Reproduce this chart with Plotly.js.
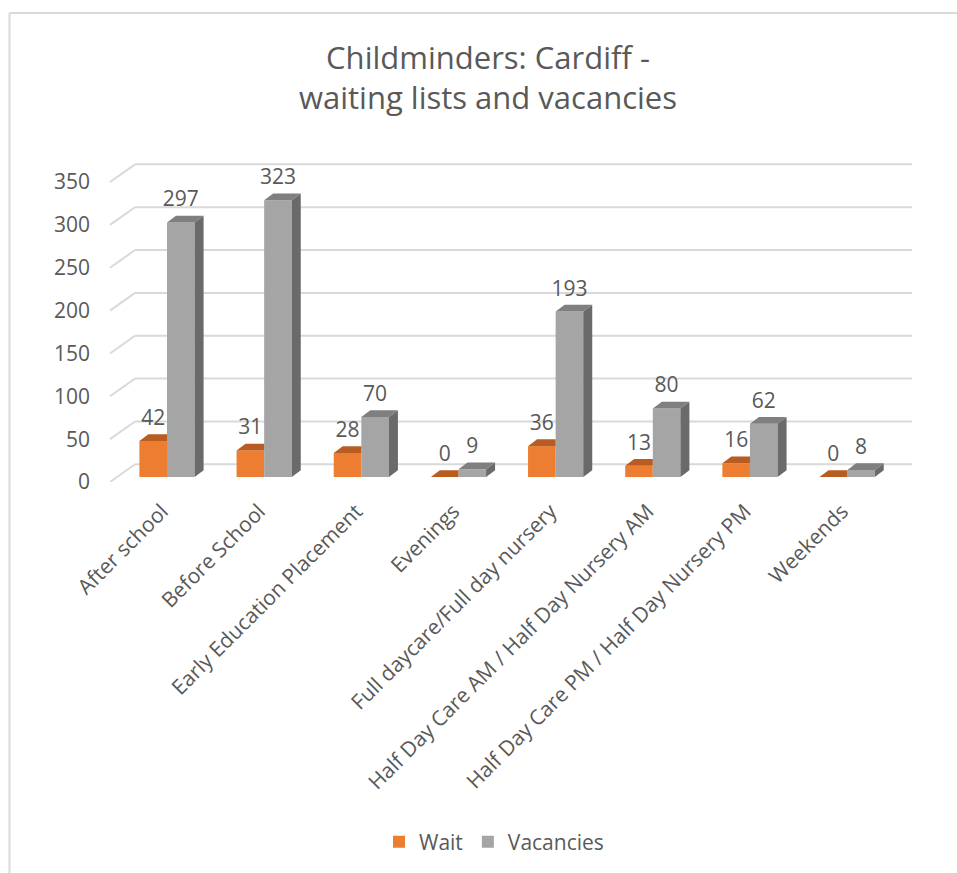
<!DOCTYPE html>
<html>
<head>
<meta charset="utf-8">
<script src="https://cdn.plot.ly/plotly-3.0.1.min.js"></script>
<style>
  html, body { margin: 0; padding: 0; background: #ffffff; }
  #chart { width: 957px; height: 873px; }
</style>
</head>
<body>
<div id="chart"></div>
<script>
// ---------------- data ----------------
const categories = [
  "After school",
  "Before School",
  "Early Education Placement",
  "Evenings",
  "Full daycare/Full day nursery",
  "Half Day Care AM / Half Day Nursery AM",
  "Half Day Care PM / Half Day Nursery PM",
  "Weekends"
];
const waitValues = [42, 31, 28, 0, 36, 13, 16, 0];
const vacancyValues = [297, 323, 70, 9, 193, 80, 62, 8];
const seriesNames = ["Wait", "Vacancies"];
const yTickValues = [0, 50, 100, 150, 200, 250, 300, 350];

// ---------------- styles / geometry ----------------
const FONT = "Open Sans, Noto Sans, sans-serif";
const TEXT_COLOR = "#595959";
const WAIT_FRONT = "#ed7d31", WAIT_TOP = "#b85c22";
const VAC_FRONT = "#a5a5a5", VAC_TOP = "#7f7f7f", VAC_SIDE = "#6a6a6a";
const GRID_COLOR = "#d9d9d9";
const LABEL_SIZE = 21;

const W = 957, H = 873;
const M = { l: 110, r: 45, t: 160, b: 391 };
const plotW = W - M.l - M.r, plotH = H - M.t - M.b;
const catPx = 97.16;          // pixels per category
const yPx = 0.857;            // pixels per value unit
const xMin = -57 / catPx;
const xRange = [xMin, xMin + plotW / catPx];
const yMin = -5 / yPx;
const yRange = [yMin, yMin + plotH / yPx];

const barW = 27.6 / catPx;    // width of one bar front face
const depthX = 9 / catPx;     // 3D depth (x)
const depthY = 6.8 / yPx;     // 3D depth (y)
const labelLift = 4 / yPx;    // extra gap above bars for data labels
const floorFront = -5 / yPx;  // grid front edge offset
const wallBack = 12.7 / yPx;  // back wall offset
const wallX = 135, gridRight = 912;

const paperX = p => (p - M.l) / plotW;
const paperY = p => (H - M.b - p) / plotH;

const xIdx = categories.map((_, i) => i);

// ---------------- 3D faces built from the data ----------------
function polys(builder) {
  const xs = [], ys = [];
  xIdx.forEach(i => {
    const pts = builder(i);
    pts.forEach(p => { xs.push(p[0]); ys.push(p[1]); });
    xs.push(pts[0][0]); ys.push(pts[0][1]);
    xs.push(null); ys.push(null);
  });
  return { xs, ys };
}
const waitTop = polys(i => {
  const xl = i - barW, xr = i, v = waitValues[i];
  return [[xl, v], [xr, v], [xr, v + depthY], [xl + depthX, v + depthY]];
});
const vacTop = polys(i => {
  const xl = i, xr = i + barW, v = vacancyValues[i];
  return [[xl, v], [xr, v], [xr + depthX, v + depthY], [xl + depthX, v + depthY]];
});
const vacSide = polys(i => {
  const xr = i + barW, v = vacancyValues[i];
  return [[xr, 0], [xr + depthX, depthY], [xr + depthX, v + depthY], [xr, v]];
});

function faceTrace(p, color) {
  return {
    type: "scatter", mode: "none", x: p.xs, y: p.ys, fill: "toself",
    fillcolor: color, showlegend: false, hoverinfo: "skip"
  };
}

const traces = [
  {
    type: "bar", name: seriesNames[0], x: xIdx, y: waitValues,
    width: barW, offset: -barW, marker: { color: WAIT_FRONT }, hoverinfo: "skip"
  },
  {
    type: "bar", name: seriesNames[1], x: xIdx, y: vacancyValues,
    width: barW, offset: 0, marker: { color: VAC_FRONT }, hoverinfo: "skip"
  },
  faceTrace(waitTop, WAIT_TOP),
  faceTrace(vacSide, VAC_SIDE),
  faceTrace(vacTop, VAC_TOP),
  {
    type: "scatter", mode: "text", x: xIdx.map(i => i - barW / 2),
    y: waitValues.map(v => v + depthY + labelLift), text: waitValues.map(String),
    textposition: "top center", showlegend: false, hoverinfo: "skip",
    textfont: { family: FONT, size: LABEL_SIZE, color: TEXT_COLOR }
  },
  {
    type: "scatter", mode: "text", x: xIdx.map(i => i + barW / 2),
    y: vacancyValues.map(v => v + depthY + labelLift), text: vacancyValues.map(String),
    textposition: "top center", showlegend: false, hoverinfo: "skip",
    textfont: { family: FONT, size: LABEL_SIZE, color: TEXT_COLOR }
  }
];

// ---------------- grid (3D wall) & border ----------------
const shapes = [];
yTickValues.forEach(v => {
  shapes.push({
    type: "line", layer: "below", xref: "paper", yref: "y",
    x0: 0, y0: v + floorFront, x1: paperX(wallX), y1: v + wallBack,
    line: { color: GRID_COLOR, width: 2 }
  });
  shapes.push({
    type: "line", layer: "below", xref: "paper", yref: "y",
    x0: paperX(wallX), y0: v + wallBack, x1: paperX(gridRight), y1: v + wallBack,
    line: { color: GRID_COLOR, width: 2 }
  });
});
shapes.push({
  type: "line", layer: "below", xref: "paper", yref: "paper",
  x0: paperX(9.5), y0: paperY(13), x1: paperX(9.5), y1: paperY(H + 5),
  line: { color: GRID_COLOR, width: 2 }
});
shapes.push({
  type: "line", layer: "below", xref: "paper", yref: "paper",
  x0: paperX(9.5), y0: paperY(13), x1: paperX(W + 5), y1: paperY(13),
  line: { color: GRID_COLOR, width: 2 }
});

const layout = {
  width: W, height: H,
  margin: M,
  paper_bgcolor: "#ffffff", plot_bgcolor: "rgba(0,0,0,0)",
  font: { family: FONT, color: TEXT_COLOR, size: LABEL_SIZE },
  title: {
    text: "Childminders: Cardiff -<br>waiting lists and vacancies",
    x: 488 / W, xanchor: "center", xref: "container",
    y: 1 - 69 / H, yanchor: "top", yref: "container",
    font: { family: FONT, size: 31, color: TEXT_COLOR }
  },
  barmode: "overlay",
  showlegend: true,
  legend: {
    orientation: "h", xref: "container", yref: "container",
    x: 494 / W, xanchor: "center", y: 1 - 842 / H, yanchor: "middle",
    font: { family: FONT, size: LABEL_SIZE, color: TEXT_COLOR },
    traceorder: "normal"
  },
  xaxis: {
    range: xRange, tickvals: xIdx, ticktext: categories,
    tickangle: -45, showgrid: false, zeroline: false, showline: false,
    ticks: "", ticklabelstandoff: 12, ticklabelshift: -5, automargin: false,
    tickfont: { family: FONT, size: LABEL_SIZE, color: TEXT_COLOR }
  },
  yaxis: {
    range: yRange, tickvals: yTickValues, showgrid: false, zeroline: false,
    showline: false, ticks: "", ticklabelstandoff: 19, ticklabelshift: 5,
    automargin: false,
    tickfont: { family: FONT, size: LABEL_SIZE, color: TEXT_COLOR }
  },
  shapes: shapes
};

Plotly.newPlot("chart", traces, layout, { staticPlot: true, displayModeBar: false });
</script>
</body>
</html>
